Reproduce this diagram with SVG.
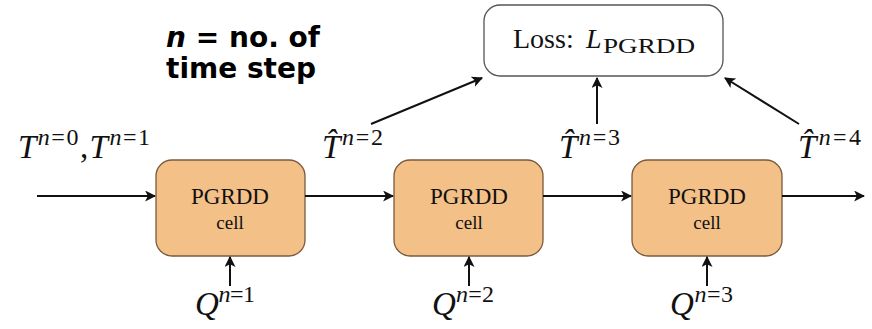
<svg xmlns="http://www.w3.org/2000/svg" width="872" height="329" viewBox="0 0 872 329">
<style>
.cell{fill:#f3c088;stroke:#7a5a3c;stroke-width:1.3}
.loss{fill:#fff;stroke:#555;stroke-width:1.3}
.m{font-family:"Liberation Serif","DejaVu Serif",serif;fill:#111}
.mi{font-style:italic}
.title{font-family:"DejaVu Sans",Verdana,sans-serif;font-weight:bold;font-size:28px;fill:#000;text-anchor:middle}
.c{text-anchor:middle}
.e{stroke:#111;stroke-width:2;fill:none;marker-end:url(#ah)}
</style>
<defs>
<marker id="ah" viewBox="0 0 10 10" refX="9" refY="5" markerWidth="5.5" markerHeight="5.5" orient="auto" markerUnits="strokeWidth">
<path d="M0,0 L10,5 L0,10 L2.5,5 Z" fill="#111"/>
</marker>
</defs>
<rect width="872" height="329" fill="#fff"/>
<g id="title">
<text class="title" x="243" y="47"><tspan font-style="italic">n</tspan> = no. of</text>
<text class="title" x="241" y="78">time step</text>
</g>
<g id="loss">
<rect class="loss" x="484" y="5" width="239" height="71" rx="16"/>
<text class="m" x="513" y="48" font-size="28">Loss: <tspan class="mi" x="586">L</tspan><tspan font-size="22" dy="5" x="603" textLength="92" lengthAdjust="spacingAndGlyphs">PGRDD</tspan></text>
</g>
<g id="cell1">
<rect class="cell" x="156" y="160" width="149" height="96" rx="16"/>
<text class="m c" x="230" y="204" font-size="23">PGRDD</text>
<text class="m c" x="230" y="229" font-size="19">cell</text>
</g>
<g id="cell2">
<rect class="cell" x="394" y="160" width="149" height="96" rx="16"/>
<text class="m c" x="469" y="204" font-size="23">PGRDD</text>
<text class="m c" x="469" y="229" font-size="19">cell</text>
</g>
<g id="cell3">
<rect class="cell" x="632" y="160" width="150" height="96" rx="16"/>
<text class="m c" x="707" y="204" font-size="23">PGRDD</text>
<text class="m c" x="707" y="229" font-size="19">cell</text>
</g>
<g id="labels">
<text class="m" x="18" y="158" font-size="33" textLength="132" lengthAdjust="spacing"><tspan class="mi">T</tspan><tspan class="mi" font-size="24" dy="-13">n</tspan><tspan font-size="24">=0</tspan><tspan dy="13">,</tspan><tspan class="mi">T</tspan><tspan class="mi" font-size="24" dy="-13">n</tspan><tspan font-size="24">=1</tspan></text>
<text class="m" x="322" y="158" font-size="33" textLength="61" lengthAdjust="spacing"><tspan class="mi">T&#x302;</tspan><tspan class="mi" font-size="24" dy="-13">n</tspan><tspan font-size="24">=2</tspan></text>
<text class="m" x="559" y="158" font-size="33" textLength="61" lengthAdjust="spacing"><tspan class="mi">T&#x302;</tspan><tspan class="mi" font-size="24" dy="-13">n</tspan><tspan font-size="24">=3</tspan></text>
<text class="m" x="798" y="158" font-size="33" textLength="63" lengthAdjust="spacing"><tspan class="mi">T&#x302;</tspan><tspan class="mi" font-size="24" dy="-13">n</tspan><tspan font-size="24">=4</tspan></text>
<text class="m" x="195" y="315" font-size="33" textLength="60" lengthAdjust="spacing"><tspan class="mi">Q</tspan><tspan class="mi" font-size="24" dy="-13">n</tspan><tspan font-size="24">=1</tspan></text>
<text class="m" x="432" y="315" font-size="33" textLength="62" lengthAdjust="spacing"><tspan class="mi">Q</tspan><tspan class="mi" font-size="24" dy="-13">n</tspan><tspan font-size="24">=2</tspan></text>
<text class="m" x="670" y="315" font-size="33" textLength="63" lengthAdjust="spacing"><tspan class="mi">Q</tspan><tspan class="mi" font-size="24" dy="-13">n</tspan><tspan font-size="24">=3</tspan></text>
</g>
<g id="connectors">
<line class="e" x1="37" y1="196" x2="155" y2="196"/>
<line class="e" x1="305" y1="196" x2="393" y2="196"/>
<line class="e" x1="543" y1="196" x2="631" y2="196"/>
<line class="e" x1="782" y1="196" x2="864" y2="196"/>
<line class="e" x1="230" y1="286" x2="230" y2="257"/>
<line class="e" x1="469" y1="286" x2="469" y2="257"/>
<line class="e" x1="707" y1="286" x2="707" y2="257"/>
<line class="e" x1="371" y1="124" x2="482" y2="78"/>
<line class="e" x1="597" y1="124" x2="597" y2="78"/>
<line class="e" x1="799" y1="124" x2="725" y2="78"/>
</g>
</svg>
